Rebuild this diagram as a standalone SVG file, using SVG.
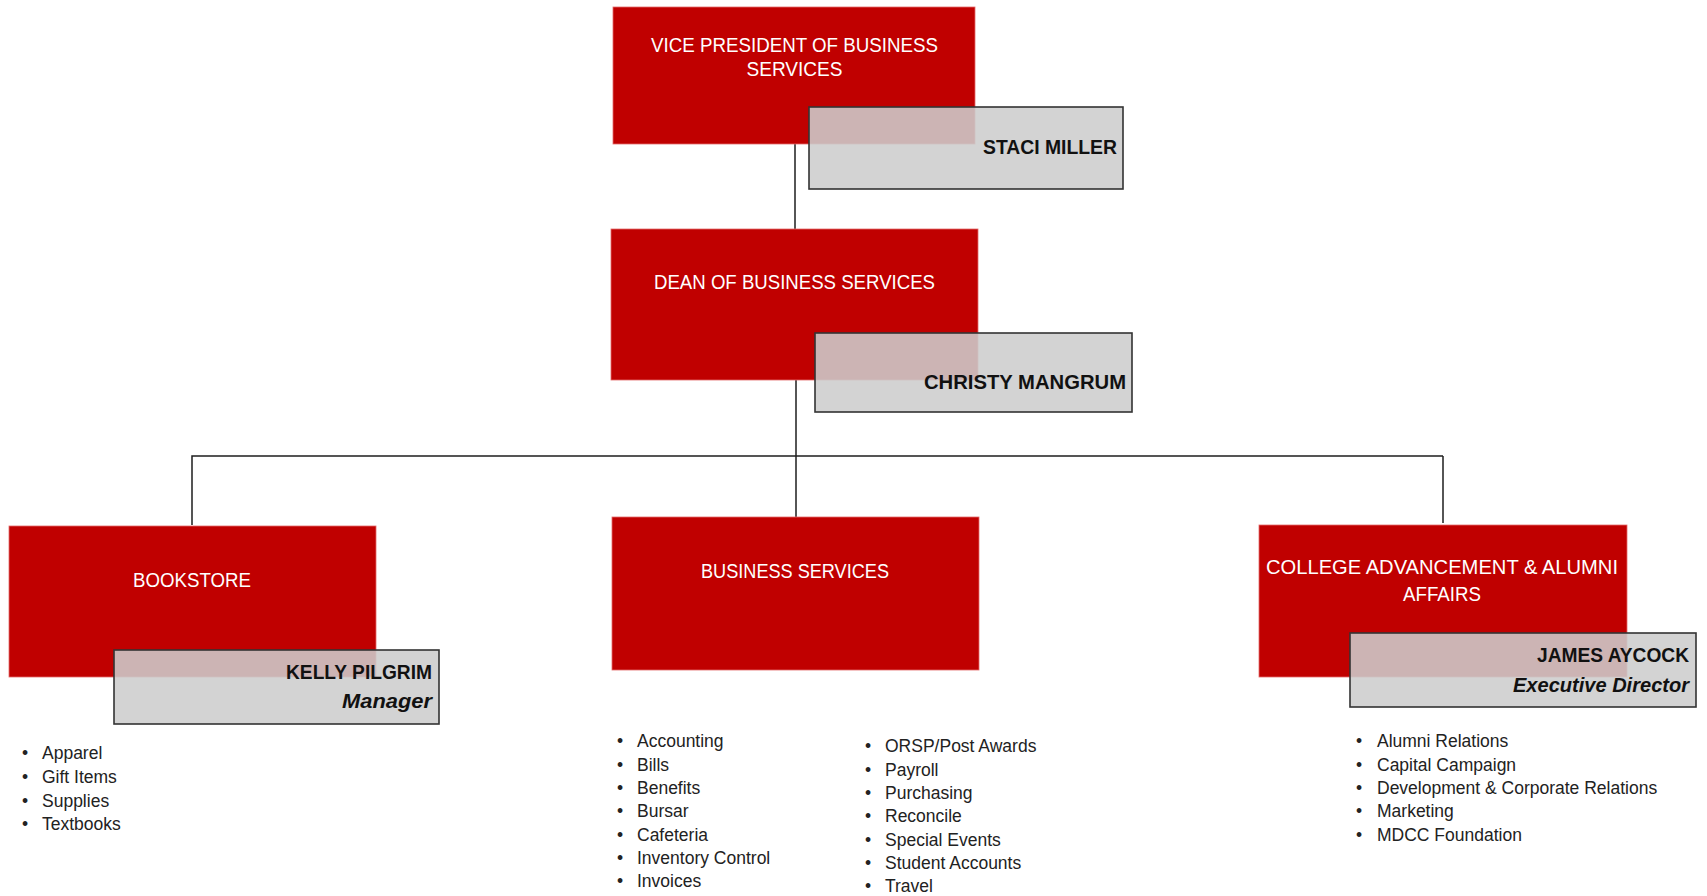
<svg xmlns="http://www.w3.org/2000/svg" width="1707" height="896" viewBox="0 0 1707 896">
<style>
.unit{fill:#C00000;stroke:#E36A6A;stroke-width:0.8}
.tag{fill:#CDCDCD;fill-opacity:0.88;stroke:#333;stroke-width:1.6}
.title{font-family:"Liberation Sans",Arial,sans-serif;font-size:20px;fill:#FFFFFF;text-anchor:middle}
.name{font-family:"Liberation Sans",Arial,sans-serif;font-size:20px;font-weight:bold;fill:#111;text-anchor:end}
.role{font-family:"Liberation Sans",Arial,sans-serif;font-size:20px;font-weight:bold;font-style:italic;fill:#111;text-anchor:end}
.item{font-family:"Liberation Sans",Arial,sans-serif;font-size:17.5px;fill:#222}
.conn{fill:none;stroke:#1E1E1E;stroke-width:1.5}
</style>
<rect width="1707" height="896" fill="#FFFFFF"/>
<g id="connectors">
<path class="conn" d="M795 144 V229" stroke-width="2.2"/>
<path class="conn" d="M796 380 V517"/>
<path class="conn" d="M192 525 V456 H1443"/>
<path class="conn" d="M1443 456 V523" stroke="#6E6E6E"/>
</g>
<g id="vp">
<rect class="unit" x="613" y="7" width="362" height="137"/>
<text class="title" x="794.5" y="52" textLength="287" lengthAdjust="spacingAndGlyphs">VICE PRESIDENT OF BUSINESS</text>
<text class="title" x="794.5" y="76" textLength="96" lengthAdjust="spacingAndGlyphs">SERVICES</text>
<rect class="tag" x="809" y="107" width="314" height="82"/>
<text class="name" x="1117" y="154" textLength="134" lengthAdjust="spacingAndGlyphs">STACI MILLER</text>
</g>
<g id="dean">
<rect class="unit" x="611" y="229" width="367" height="151"/>
<text class="title" x="794.5" y="289" textLength="281" lengthAdjust="spacingAndGlyphs">DEAN OF BUSINESS SERVICES</text>
<rect class="tag" x="815" y="333" width="317" height="79"/>
<text class="name" x="1126" y="389" textLength="202" lengthAdjust="spacingAndGlyphs">CHRISTY MANGRUM</text>
</g>
<g id="bookstore">
<rect class="unit" x="9" y="526" width="367" height="151"/>
<text class="title" x="192" y="587" textLength="118" lengthAdjust="spacingAndGlyphs">BOOKSTORE</text>
<rect class="tag" x="114" y="650" width="325" height="74"/>
<text class="name" x="432" y="679" textLength="146" lengthAdjust="spacingAndGlyphs">KELLY PILGRIM</text>
<text class="role" x="432" y="708" textLength="90" lengthAdjust="spacingAndGlyphs">Manager</text>
<g class="item">
<text x="22" y="759">•</text><text x="42" y="759">Apparel</text>
<text x="22" y="783">•</text><text x="42" y="783">Gift Items</text>
<text x="22" y="806.5">•</text><text x="42" y="806.5">Supplies</text>
<text x="22" y="830">•</text><text x="42" y="830">Textbooks</text>
</g>
</g>
<g id="business-services">
<rect class="unit" x="612" y="517" width="367" height="153"/>
<text class="title" x="795" y="578" textLength="188" lengthAdjust="spacingAndGlyphs">BUSINESS SERVICES</text>
<g class="item">
<text x="617" y="747">•</text><text x="637" y="747">Accounting</text>
<text x="617" y="770.5">•</text><text x="637" y="770.5">Bills</text>
<text x="617" y="794">•</text><text x="637" y="794">Benefits</text>
<text x="617" y="817">•</text><text x="637" y="817">Bursar</text>
<text x="617" y="840.5">•</text><text x="637" y="840.5">Cafeteria</text>
<text x="617" y="864">•</text><text x="637" y="864">Inventory Control</text>
<text x="617" y="887">•</text><text x="637" y="887">Invoices</text>
<text x="865" y="752">•</text><text x="885" y="752">ORSP/Post Awards</text>
<text x="865" y="775.5">•</text><text x="885" y="775.5">Payroll</text>
<text x="865" y="799">•</text><text x="885" y="799">Purchasing</text>
<text x="865" y="822">•</text><text x="885" y="822">Reconcile</text>
<text x="865" y="846">•</text><text x="885" y="846">Special Events</text>
<text x="865" y="869">•</text><text x="885" y="869">Student Accounts</text>
<text x="865" y="892">•</text><text x="885" y="892">Travel</text>
</g>
</g>
<g id="college-advancement">
<rect class="unit" x="1259" y="525" width="368" height="152"/>
<text class="title" x="1442" y="574" textLength="352" lengthAdjust="spacingAndGlyphs">COLLEGE ADVANCEMENT &amp; ALUMNI</text>
<text class="title" x="1442" y="601" textLength="78" lengthAdjust="spacingAndGlyphs">AFFAIRS</text>
<rect class="tag" x="1350" y="633" width="346" height="74"/>
<text class="name" x="1689" y="662" textLength="152" lengthAdjust="spacingAndGlyphs">JAMES AYCOCK</text>
<text class="role" x="1689" y="692" textLength="176" lengthAdjust="spacingAndGlyphs">Executive Director</text>
<g class="item">
<text x="1356" y="747">•</text><text x="1377" y="747">Alumni Relations</text>
<text x="1356" y="770.5">•</text><text x="1377" y="770.5">Capital Campaign</text>
<text x="1356" y="794">•</text><text x="1377" y="794">Development &amp; Corporate Relations</text>
<text x="1356" y="817">•</text><text x="1377" y="817">Marketing</text>
<text x="1356" y="840.5">•</text><text x="1377" y="840.5">MDCC Foundation</text>
</g>
</g>
</svg>
